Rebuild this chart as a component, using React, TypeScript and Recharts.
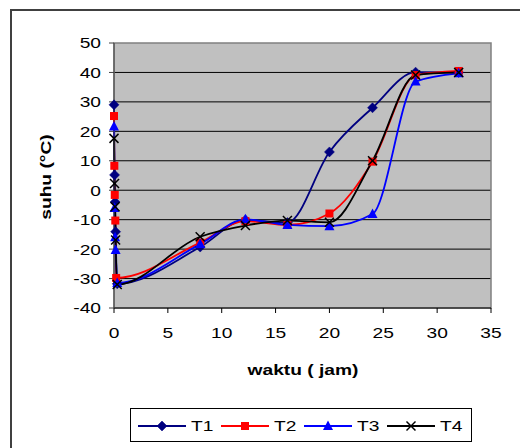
import React from "react";
import { LineChart, Line, XAxis, YAxis, CartesianGrid, ReferenceArea } from "recharts";

const FONT = "'Liberation Sans', Arial, sans-serif";

// waktu (jam) / suhu (°C) per series
const T1_HOURS = [0, 0.05, 0.1, 0.15, 0.3, 8, 12.2, 16.1, 20, 24, 28, 32];
const T1_TEMP = [29, 5.2, -4, -14.1, -31.8, -19.3, -10.1, -11, 13, 28, 40.1, 40];

const T2_HOURS = [0, 0.03, 0.07, 0.12, 0.2, 8, 12.2, 16.1, 20, 24, 28, 32];
const T2_TEMP = [25.2, 8.3, -1.6, -10.3, -29.8, -17.8, -10.5, -11.8, -7.9, 9.7, 39.1, 40.5];

const T3_HOURS = [0, 0.05, 0.1, 0.15, 0.3, 8, 12.2, 16.1, 20, 24, 28, 32];
const T3_TEMP = [21.6, -6, -16, -20.3, -31.5, -18.3, -9.9, -11.8, -12.2, -8.1, 36.9, 39.7];

const T4_HOURS = [0, 0.05, 0.1, 0.15, 0.3, 8, 12.2, 16.1, 20, 24, 28, 32];
const T4_TEMP = [17.6, 2.3, -5.6, -16.9, -32, -15.8, -12, -10.3, -10.9, 10, 39.1, 40];

const X_TICKS = [0, 5, 10, 15, 20, 25, 30, 35];
const Y_TICKS = [-40, -30, -20, -10, 0, 10, 20, 30, 40, 50];
const GRID_VALUES = [-30, -20, -10, 0, 10, 20, 30, 40];

const toRows = (hours: number[], temps: number[]) => hours.map((t, i) => ({ t, v: temps[i] }));

type Kind = "diamond" | "square" | "triangle" | "x";

const SERIES: { name: string; color: string; kind: Kind; rows: { t: number; v: number }[] }[] = [
  { name: "T1", color: "#000080", kind: "diamond", rows: toRows(T1_HOURS, T1_TEMP) },
  { name: "T2", color: "#FF0000", kind: "square", rows: toRows(T2_HOURS, T2_TEMP) },
  { name: "T3", color: "#0000FF", kind: "triangle", rows: toRows(T3_HOURS, T3_TEMP) },
  { name: "T4", color: "#000000", kind: "x", rows: toRows(T4_HOURS, T4_TEMP) },
];

// the original picture is stretched sideways, so text gets a horizontal scale
const STRETCH = 1.28;

function Marker({ kind, cx, cy, color }: { kind: Kind; cx: number; cy: number; color: string }) {
  if (kind === "diamond")
    return <polygon points={`${cx},${cy - 5} ${cx + 5},${cy} ${cx},${cy + 5} ${cx - 5},${cy}`} fill={color} stroke={color} strokeWidth={0.5} />;
  if (kind === "square") return <rect x={cx - 4} y={cy - 4} width={8} height={8} fill={color} />;
  if (kind === "triangle")
    return <polygon points={`${cx},${cy - 5.5} ${cx + 5},${cy + 4} ${cx - 5},${cy + 4}`} fill={color} />;
  return (
    <g stroke={color} strokeWidth={1.5}>
      <line x1={cx - 4.5} y1={cy - 4.5} x2={cx + 4.5} y2={cy + 4.5} />
      <line x1={cx - 4.5} y1={cy + 4.5} x2={cx + 4.5} y2={cy - 4.5} />
    </g>
  );
}

const XTick = ({ x, y, payload }: any) => (
  <text transform={`translate(${x},${y}) scale(${STRETCH},1)`} textAnchor="middle" dy="0.71em" fontSize={15} fontFamily={FONT} fill="#000">
    {payload.value}
  </text>
);

const YTick = ({ x, y, payload }: any) => (
  <text transform={`translate(${x},${y}) scale(${STRETCH},1)`} textAnchor="end" dy="0.36em" fontSize={15} fontFamily={FONT} fill="#000">
    {payload.value}
  </text>
);

export default function App() {
  return (
    <div style={{ position: "absolute", left: 0, top: 0, width: 520, height: 448, overflow: "hidden", background: "#fff", fontFamily: FONT }}>
      {/* outer chart frame */}
      <div style={{ position: "absolute", left: 10, top: 9, width: 540, height: 470, border: "2px solid #404040" }} />

      <div style={{ position: "absolute", left: 0, top: 0 }}>
        <LineChart width={520} height={448} margin={{ top: 43, right: 29, left: 0, bottom: 0 }}>
          <CartesianGrid vertical={false} horizontalValues={GRID_VALUES} stroke="#000" fill="#C0C0C0" />
          <ReferenceArea x1={0} x2={35} y1={-40} y2={50} fill="none" fillOpacity={0} stroke="#808080" strokeWidth={1.5} />
          <XAxis
            type="number"
            dataKey="t"
            domain={[0, 35]}
            ticks={X_TICKS}
            interval={0}
            height={140}
            tickSize={5}
            tickMargin={14}
            stroke="#000"
            tick={<XTick />}
          />
          <YAxis
            type="number"
            domain={[-40, 50]}
            ticks={Y_TICKS}
            interval={0}
            width={114}
            tickSize={5}
            tickMargin={8}
            stroke="#404040"
            tick={<YTick />}
          />
          {SERIES.map(s => (
            <Line
              key={s.name}
              data={s.rows}
              dataKey="v"
              name={s.name}
              type="monotone"
              stroke={s.color}
              strokeWidth={1.8}
              isAnimationActive={false}
              dot={(p: any) => <Marker key={`${s.name}-${p.index}`} kind={s.kind} cx={p.cx} cy={p.cy} color={s.color} />}
              activeDot={false}
            />
          ))}
        </LineChart>
      </div>

      {/* axis titles */}
      <div style={{ position: "absolute", left: 45, top: 177, transform: `translate(-50%, -50%) rotate(-90deg) scale(${STRETCH}, 1)`, whiteSpace: "nowrap", fontWeight: 700, fontSize: 15 }}>
        suhu (°C)
      </div>
      <div style={{ position: "absolute", left: 303, top: 369, transform: `translate(-50%, -50%) scale(${STRETCH}, 1)`, whiteSpace: "nowrap", fontWeight: 700, fontSize: 15 }}>
        waktu ( jam)
      </div>

      {/* legend */}
      <div style={{ position: "absolute", left: 130, top: 408, width: 342, height: 34, border: "1px solid #000", boxSizing: "border-box" }}>
        <svg width={342} height={34} style={{ position: "absolute", left: 0, top: 0 }}>
          {SERIES.map((s, i) => {
            const x0 = 7 + i * 83;
            return (
              <g key={s.name}>
                <line x1={x0} y1={17} x2={x0 + 48} y2={17} stroke={s.color} strokeWidth={1.8} />
                <Marker kind={s.kind} cx={x0 + 24} cy={17} color={s.color} />
                <text transform={`translate(${x0 + 53},22) scale(${STRETCH},1)`} fontSize={15} fontFamily={FONT} fill="#000">{s.name}</text>
              </g>
            );
          })}
        </svg>
      </div>
    </div>
  );
}
